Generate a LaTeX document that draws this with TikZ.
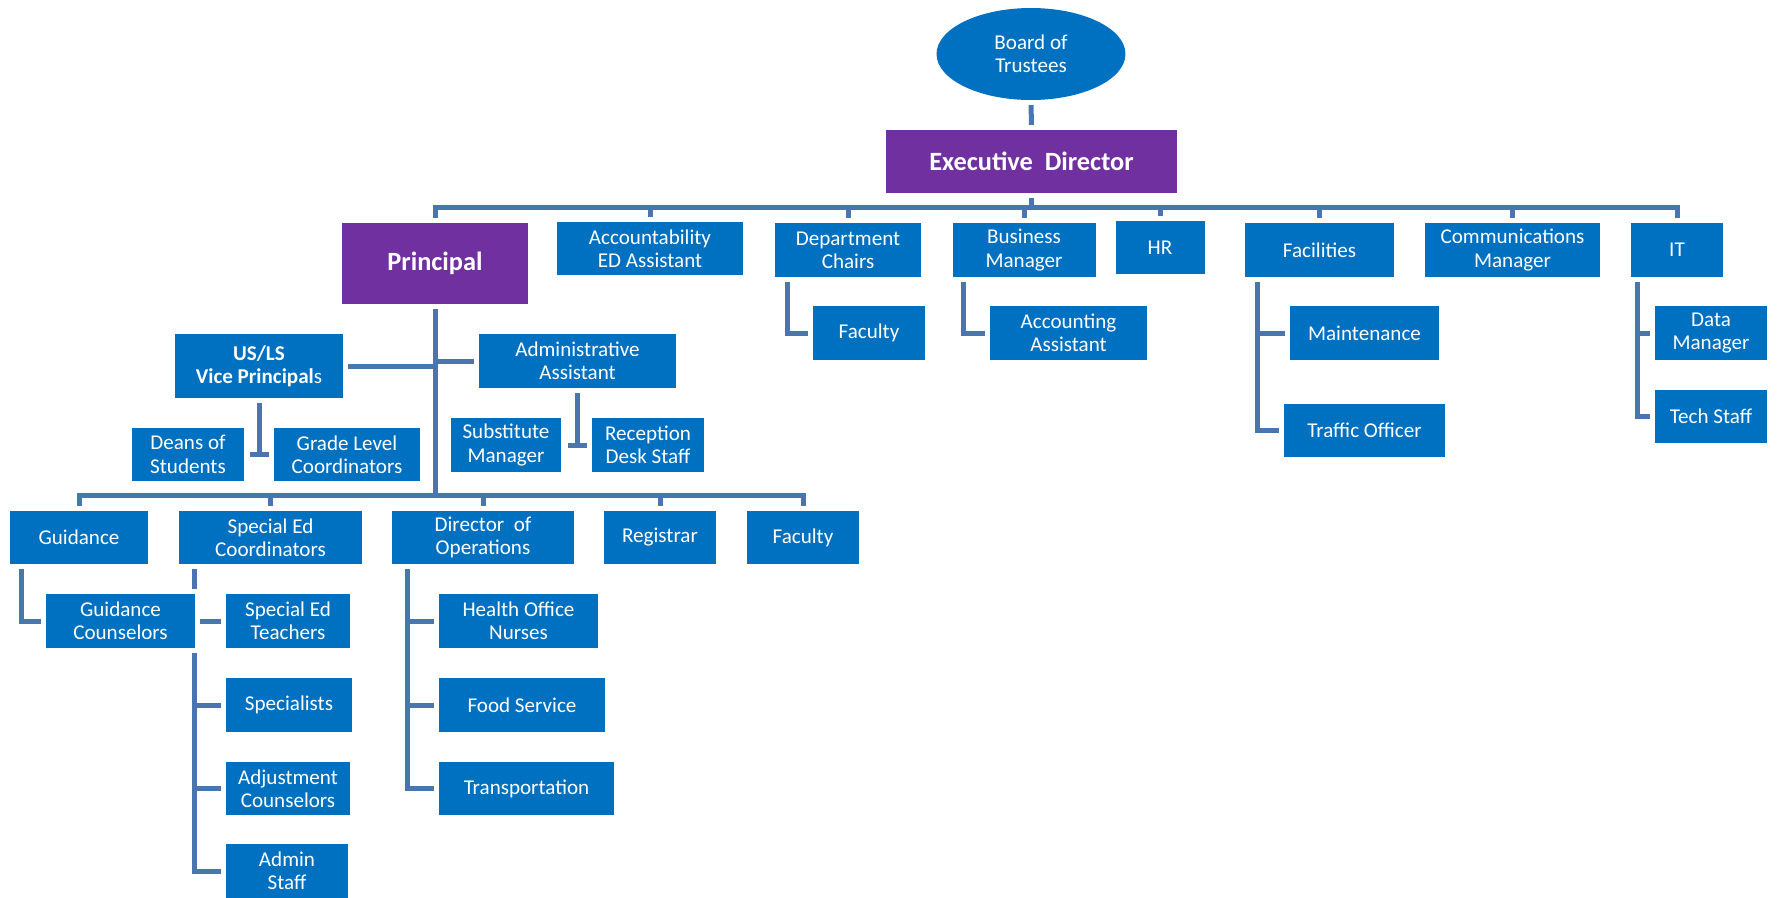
\documentclass[tikz,border=0pt]{standalone}
\usepackage{fontspec}
\setmainfont{Carlito}
\usetikzlibrary{positioning,shapes.geometric,backgrounds}
\definecolor{boxblue}{RGB}{0,112,192}
\definecolor{leadpurple}{RGB}{112,48,160}
\definecolor{linkblue}{RGB}{74,118,176}

\begin{document}
\begin{tikzpicture}[x=0.02cm, y=-0.02cm,
  staff/.style={rectangle, fill=boxblue, text=white, align=center,
                inner sep=0pt, minimum height=1.07cm,
                font=\fontsize{12}{13.3}\selectfont,
                preaction={draw=white, line width=0.2cm}},
  lead/.style={staff, fill=leadpurple,
               font=\fontsize{15}{18}\selectfont\bfseries},
  trustee/.style={staff, ellipse, minimum width=3.78cm, minimum height=1.84cm},
  link/.style={draw=linkblue, line width=0.1cm},
]
  \useasboundingbox (0,0) rectangle (1777,897);

  % top of the chart
  \node[trustee] (board) at (1031,54) {Board of\\Trustees};
  \node[lead, minimum width=5.84cm, minimum height=1.26cm] (ed) at (1031.5,161.5) {Executive~ Director};

  \node[lead, minimum width=3.74cm, minimum height=1.62cm] (princ) at (435,263.5) {Principal};
  \node[staff, minimum width=3.72cm] (acc)  at (650,248.5)  {Accountability\\ED Assistant};
  \node[staff, minimum width=2.92cm] (dept) at (848,250)    {Department\\Chairs};
  \node[staff, minimum width=2.86cm] (bm)   at (1024,250)   {Business\\Manager};
  \node[staff, minimum width=1.78cm] (hr)   at (1160,247.5) {HR};
  \node[staff, minimum width=2.98cm] (fac)  at (1319.5,250) {Facilities};
  \node[staff, minimum width=3.50cm] (comm) at (1512.5,250) {Communications\\Manager};
  \node[staff, minimum width=1.84cm] (it)   at (1677,250)   {IT};

  \node[staff, minimum width=2.24cm] (dfac)    at (869,333)      {Faculty};
  \node[staff, minimum width=3.14cm] (accas)   at (1068.5,333)   {Accounting\\Assistant};
  \node[staff, minimum width=2.98cm] (maint)   at (1364.5,333)   {Maintenance};
  \node[staff, minimum width=3.22cm] (traffic) at (1364.5,430.5) {Traffic Officer};
  \node[staff, minimum width=2.24cm] (data)    at (1711,333)     {Data\\Manager};
  \node[staff, minimum width=2.24cm] (tech)    at (1711,416.5)   {Tech Staff};

  % principal's side
  \node[staff, minimum width=3.36cm, minimum height=1.28cm] (vp) at (259,366)
    {\textbf{US/LS}\\\textbf{Vice Principal}s};
  \node[staff, minimum width=3.94cm] (aa)    at (577.5,361) {Administrative\\Assistant};
  \node[staff, minimum width=2.24cm] (deans) at (188,454.5) {Deans of\\Students};
  \node[staff, minimum width=2.92cm] (grade) at (347,454.5) {Grade Level\\Coordinators};
  \node[staff, minimum width=2.20cm] (subm)  at (506,445)   {Substitute\\Manager};
  \node[staff, minimum width=2.24cm] (recep) at (648,445)   {Reception\\Desk Staff};

  \node[staff, minimum width=2.76cm] (guid) at (79,537.5)    {Guidance};
  \node[staff, minimum width=3.66cm] (spc)  at (270.5,537.5) {Special Ed\\Coordinators};
  \node[staff, minimum width=3.64cm] (dops) at (483,537.5)   {Director\ \ of\\Operations};
  \node[staff, minimum width=2.24cm] (reg)  at (660,537.5)   {Registrar};
  \node[staff, minimum width=2.24cm] (lfac) at (803,537.5)   {Faculty};

  \node[staff, minimum width=2.98cm] (gc)    at (120.5,621) {Guidance\\Counselors};
  \node[staff, minimum width=2.50cm] (spt)   at (288,621)   {Special Ed\\Teachers};
  \node[staff, minimum width=2.54cm] (spec)  at (289,705)   {Specialists};
  \node[staff, minimum width=2.50cm] (adj)   at (288,788.5) {Adjustment\\Counselors};
  \node[staff, minimum width=2.46cm] (adm)   at (287,871)   {Admin\\Staff};
  \node[staff, minimum width=3.18cm] (hon)   at (518.5,621) {Health Office\\Nurses};
  \node[staff, minimum width=3.32cm] (food)  at (522,705)   {Food Service};
  \node[staff, minimum width=3.50cm] (trans) at (526.5,788.5) {Transportation};

  % connectors sit behind the boxes
  \begin{pgfonlayer}{background}
    \coordinate (topbus) at (1031.5,207);
    \coordinate (lowbus) at (435,495);
    \draw[link] (board.south) -- (ed.north);
    \draw[link] (ed.south) -- (topbus);
    \foreach \n in {princ,acc,dept,bm,hr,fac,comm,it}
      \draw[link] (\n.north) |- (topbus);

    \coordinate (deptl) at ([xshift=0.25cm]dept.south west);
    \coordinate (bml)   at ([xshift=0.23cm]bm.south west);
    \coordinate (facl)  at ([xshift=0.25cm]fac.south west);
    \coordinate (itl)   at ([xshift=0.14cm]it.south west);
    \draw[link] (deptl) |- (dfac.west);
    \draw[link] (bml) |- (accas.west);
    \foreach \n in {maint,traffic}
      \draw[link] (facl) |- (\n.west);
    \foreach \n in {data,tech}
      \draw[link] (itl) |- (\n.west);

    \draw[link] (princ.south) -- (lowbus);
    \draw[link] (vp.east) -- (vp.east -| princ.south);
    \draw[link] (aa.west) -- (aa.west -| princ.south);
    \foreach \n in {guid,spc,dops,reg,lfac}
      \draw[link] (\n.north) |- (lowbus);

    \coordinate (vpt) at (vp.south |- deans.east);
    \coordinate (aat) at (aa.south |- subm.east);
    \draw[link] (vp.south) -- (vpt);
    \draw[link] ([xshift=-0.19cm]vpt) -- ([xshift=0.19cm]vpt);
    \draw[link] (aa.south) -- (aat);
    \draw[link] ([xshift=-0.19cm]aat) -- ([xshift=0.19cm]aat);

    \coordinate (guidl) at ([xshift=0.24cm]guid.south west);
    \coordinate (spcl)  at ([xshift=0.31cm]spc.south west);
    \coordinate (dopsl) at ([xshift=0.31cm]dops.south west);
    \draw[link] (guidl) |- (gc.west);
    \foreach \n in {spt,spec,adj,adm}
      \draw[link] (spcl) |- (\n.west);
    \foreach \n in {hon,food,trans}
      \draw[link] (dopsl) |- (\n.west);
  \end{pgfonlayer}
\end{tikzpicture}
\end{document}
